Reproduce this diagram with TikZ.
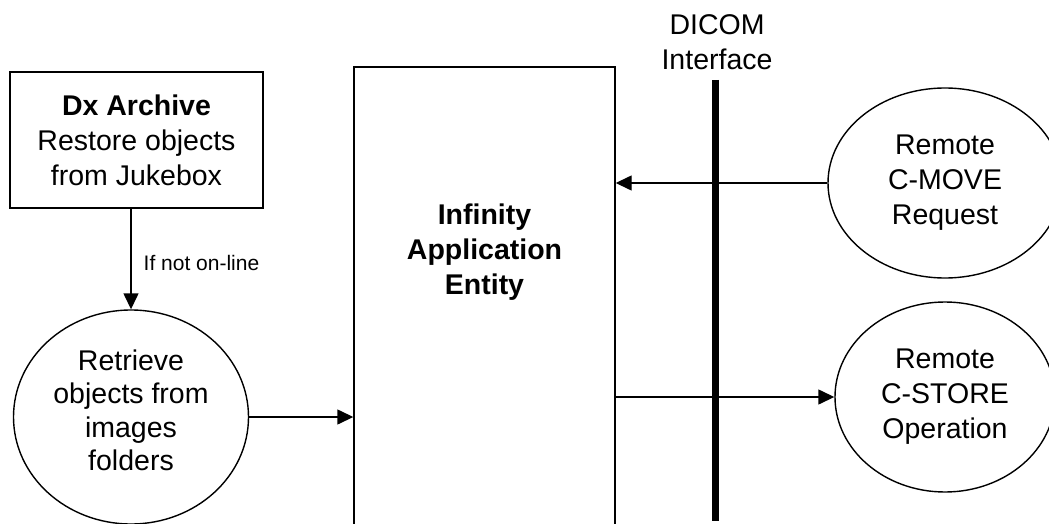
\documentclass[tikz,border=0pt]{standalone}
\usepackage{fontspec}
\setmainfont{Liberation Sans}
\usetikzlibrary{arrows.meta,shapes.geometric}
\begin{document}
\begin{tikzpicture}[x=1pt,y=-1pt,
  line width=1.4pt,
  txt/.style={font=\fontsize{28.5}{35}\selectfont, align=center, inner sep=0pt},
  boxnode/.style={draw, rectangle, inner sep=0pt},
  ellnode/.style={draw, ellipse, inner sep=0pt, font=\fontsize{28.5}{35}\selectfont, align=center},
  arr/.style={-{Triangle[length=16pt,width=15pt]}},
  small/.style={font=\fontsize{21}{24}\selectfont, inner sep=0pt}
]
\useasboundingbox (0,0) rectangle (1049,524);
\clip (0,0) rectangle (1049,524);
% Dx Archive box
\node[boxnode, minimum width=253pt, minimum height=136pt, txt] (dx) at (136.5,140)
  {\textbf{Dx Archive}\\Restore objects\\from Jukebox};
% Retrieve ellipse
\node[ellnode, minimum width=235pt, minimum height=214pt, font=\fontsize{28.5}{33.5}\selectfont] (ret) at (131,417)
  {Retrieve\\objects from\\images\\folders\\[-20pt]};
% Application entity box (bottom outside the picture)
\node[boxnode, minimum width=261pt, minimum height=493pt] (ae) at (484.5,313.5) {};
\node[txt] (aetxt) at (484.5,252) {\textbf{Infinity}\\\textbf{Application}\\\textbf{Entity}};
% DICOM interface
\node[txt] (dicom) at (717,42) {DICOM\\Interface};
\coordinate (ifTop) at (715,80);
\coordinate (ifBot) at (715,521);
\draw[line width=7pt] (ifTop) -- (ifBot);
% Remote ellipses
\node[ellnode, minimum width=234pt, minimum height=190pt] (cmove) at (945,183)
  {Remote\\C-MOVE\\Request};
\node[ellnode, minimum width=220pt, minimum height=190pt] (cstore) at (945,397)
  {Remote\\C-STORE\\Operation};
% connectors
\draw[arr] (dx.south -| ret.north) -- (ret.north);
\node[small, anchor=base west] (lbl) at (143,270) {If not on-line};
\draw[arr] (ret.east) -- (ret.east -| ae.west);
\draw[arr] (cmove.west) -- (cmove.west -| ae.east);
\draw[arr] (cstore.west -| ae.east) -- (cstore.west);
\end{tikzpicture}
\end{document}
